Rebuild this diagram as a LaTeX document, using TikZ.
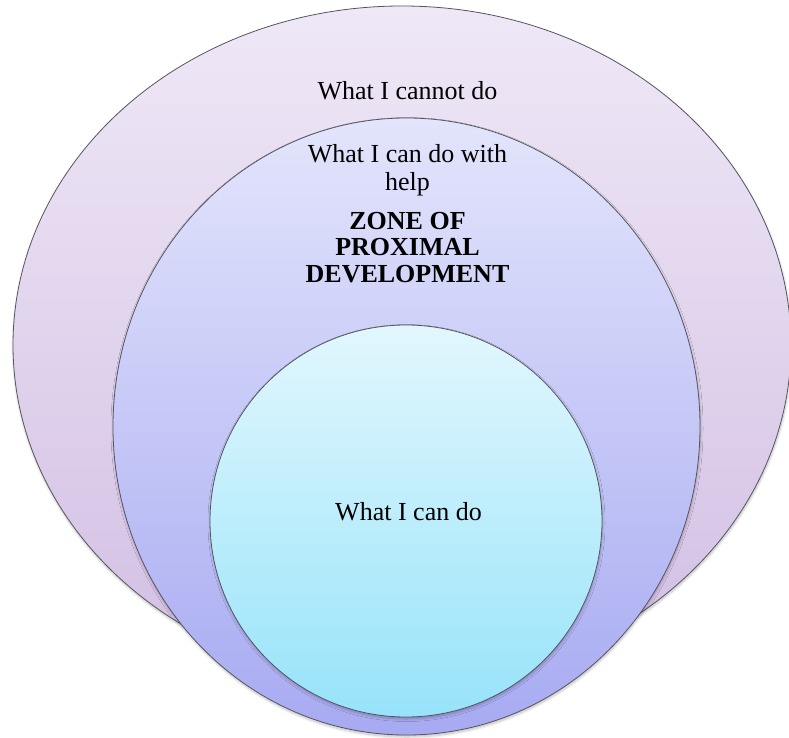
\documentclass[tikz,border=0pt]{standalone}
\usepackage{fontspec}
\setmainfont{Liberation Serif}
\usetikzlibrary{shapes.geometric,shadows.blur}

\definecolor{outerTop}{HTML}{EFE8F7}
\definecolor{outerBot}{HTML}{D2BEE3}
\definecolor{midTop}{HTML}{E3E5FC}
\definecolor{midBot}{HTML}{A7AAF1}
\definecolor{innTop}{HTML}{E2F7FD}
\definecolor{innBot}{HTML}{97E3FA}
\definecolor{rim}{HTML}{55555F}

\tikzset{
  zone/.style={ellipse, inner sep=0pt, outer sep=0pt, draw=rim, line width=0.8pt,
    blur shadow={shadow xshift=0.5pt, shadow yshift=-2pt,
                 shadow blur radius=2.5pt, shadow blur steps=8, shadow opacity=25}},
  label/.style={anchor=base, inner sep=0pt, font=\fontsize{26}{28}\selectfont},
  heading/.style={label, font=\fontsize{26}{28}\selectfont\bfseries}
}

\begin{document}
\begin{tikzpicture}[x=1pt, y=-1pt]
  \useasboundingbox (0,0) rectangle (789,738);

  % nested zones, drawn from the outside in
  \node[zone, top color=outerTop, bottom color=outerBot,
        minimum width=778pt, minimum height=678pt] (cannot) at (402,345) {};
  \node[zone, top color=midTop, bottom color=midBot,
        minimum width=587pt, minimum height=617pt] (help) at (406.5,426.5) {};
  \node[zone, top color=innTop, bottom color=innBot,
        minimum width=392pt, minimum height=392pt] (can) at (406,521) {};

  % captions
  \node[label] (tCannot) at (407.5,100) {What I cannot do};
  \node[label] (tHelpA) at (407.5,162.5) {What I can do with};
  \node[label] (tHelpB) at (407.5,190) {help};
  \node[heading] (tZoneA) at (407.5,229) {ZONE OF};
  \node[heading] (tZoneB) at (407.5,255.5) {PROXIMAL};
  \node[heading] (tZoneC) at (407.5,282.5) {DEVELOPMENT};
  \node[label] (tCan) at (408.5,520) {What I can do};
\end{tikzpicture}
\end{document}
